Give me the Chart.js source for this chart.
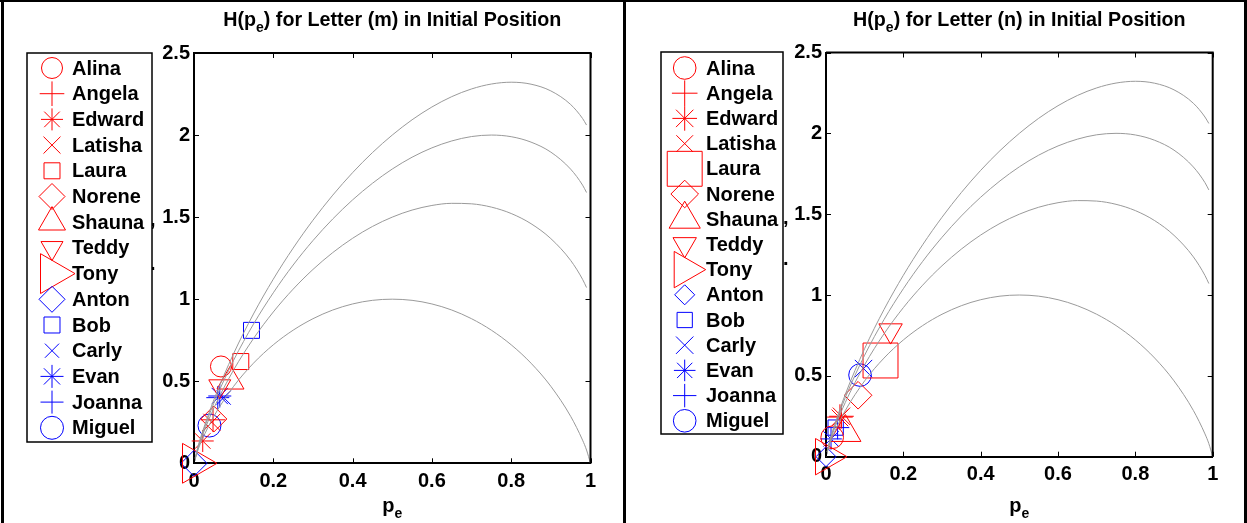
<!DOCTYPE html>
<html>
<head>
<meta charset="utf-8">
<script src="https://cdn.jsdelivr.net/npm/chart.js@4.4.1/dist/chart.umd.min.js"></script>
<style>
  html, body { margin: 0; padding: 0; background: #fff; }
  #wrap { position: relative; width: 1247px; height: 523px; overflow: hidden; background: #fff; }
  #wrap canvas { position: absolute; top: 0; }
  .rule { position: absolute; background: #000; }
</style>
</head>
<body>
<div id="wrap">
  <canvas id="panelM" width="624" height="523" style="left:0"></canvas>
  <canvas id="panelN" width="621" height="523" style="left:626px"></canvas>
  <div class="rule" style="left:0;top:0;width:1247px;height:2px"></div>
  <div class="rule" style="left:1px;top:0;width:3px;height:523px"></div>
  <div class="rule" style="left:623px;top:0;width:3px;height:523px"></div>
  <div class="rule" style="left:1244px;top:0;width:3px;height:523px"></div>
</div>
<script>
// Speakers, in legend order
const speakers = ['Alina', 'Angela', 'Edward', 'Latisha', 'Laura', 'Norene', 'Shauna', 'Teddy', 'Tony',
                  'Anton', 'Bob', 'Carly', 'Evan', 'Joanna', 'Miguel'];
const speakerColors = ['#ff0000', '#ff0000', '#ff0000', '#ff0000', '#ff0000', '#ff0000', '#ff0000', '#ff0000', '#ff0000',
                       '#0000ff', '#0000ff', '#0000ff', '#0000ff', '#0000ff', '#0000ff'];
const markerStyles = ['circle', 'cross', 'star', 'crossRot', 'rect', 'rectRot', 'triangle', 'triangle', 'triangle',
                      'rectRot', 'rect', 'crossRot', 'star', 'cross', 'circle'];
const markerRotations = [0, 0, 0, 0, 0, 0, 0, 180, 90, 0, 0, 0, 0, 0, 0];

// Letter (m): error probability p_e and entropy H(p_e) per speaker, marker radius per speaker
const mPe   = [0.068, 0.048, 0.022, 0.045, 0.118, 0.050, 0.092, 0.065, 0.000, 0.000, 0.145, 0.075, 0.065, 0.060, 0.039];
const mH    = [0.59, 0.265, 0.136, 0.25, 0.62, 0.27, 0.50, 0.47, 0.00, 0.00, 0.81, 0.40, 0.41, 0.40, 0.23];
const mSize = [10.5, 12.3, 11, 12, 11.3, 13, 15.6, 12.7, 23, 13, 11.3, 10, 11.5, 11.5, 11.5];

// Letter (n)
const nPe   = [0.016, 0.036, 0.040, 0.036, 0.141, 0.083, 0.050, 0.167, 0.000, 0.000, 0.025, 0.097, 0.013, 0.030, 0.088];
const nH    = [0.12, 0.245, 0.25, 0.24, 0.595, 0.38, 0.15, 0.78, 0.00, 0.00, 0.18, 0.545, 0.11, 0.18, 0.505];
const nSize = [11.3, 12.8, 12.3, 11.8, 24.7, 13.8, 18, 13.5, 21, 10, 10.8, 12.3, 10.8, 11.7, 11.3];

// Reference entropy curves for 2, 3, 4 and 5 confusable alternatives
const curvePe = [0, 0.01, 0.02, 0.05, 0.1, 0.15, 0.2, 0.25, 0.3, 0.35, 0.4, 0.45, 0.5, 0.55, 0.6,
                 0.65, 0.7, 0.75, 0.8, 0.85, 0.9, 0.95, 0.98, 0.99, 1];
const curveK2 = [0, 0.081, 0.141, 0.286, 0.469, 0.610, 0.722, 0.811, 0.881, 0.934, 0.971, 0.993, 1.000, 0.993, 0.971,
                 0.934, 0.881, 0.811, 0.722, 0.610, 0.469, 0.286, 0.141, 0.081, 0];
const curveK3 = [0, 0.091, 0.161, 0.336, 0.569, 0.760, 0.922, 1.061, 1.181, 1.284, 1.371, 1.443, 1.500, 1.543, 1.571,
                 1.584, 1.581, 1.561, 1.522, 1.460, 1.369, 1.236, 1.121, 1.071, null];
const curveK4 = [0, 0.097, 0.173, 0.366, 0.628, 0.848, 1.039, 1.208, 1.357, 1.489, 1.605, 1.706, 1.793, 1.865, 1.922,
                 1.964, 1.991, 2.000, 1.990, 1.957, 1.896, 1.792, 1.695, 1.650, null];
const curveK5 = [0, 0.101, 0.181, 0.386, 0.669, 0.910, 1.122, 1.311, 1.481, 1.634, 1.771, 1.893, 2.000, 2.093, 2.171,
                 2.234, 2.281, 2.311, 2.322, 2.310, 2.269, 2.186, 2.101, 2.061, null];

const xTickLabels = ['0', '0.2', '0.4', '0.6', '0.8', '1'];
const yTickLabels = ['0', '0.5', '1', '1.5', '2', '2.5'];

const FONT = "'Liberation Sans', Arial, sans-serif";
Chart.defaults.font.family = FONT;
Chart.defaults.color = '#000';

function curveData(values) {
  return curvePe.map((p, i) => ({ x: p, y: values[i] }));
}

// Draw a run of text pieces, some lowered as subscripts, centred on cx
function drawRichText(ctx, pieces, cx, baseline, size) {
  const subSize = Math.round(size * 0.7);
  const widths = pieces.map(p => {
    ctx.font = `bold ${p.sub ? subSize : size}px ${FONT}`;
    return ctx.measureText(p.t).width;
  });
  let x = cx - widths.reduce((a, b) => a + b, 0) / 2;
  ctx.textAlign = 'left';
  ctx.textBaseline = 'alphabetic';
  pieces.forEach((p, i) => {
    ctx.font = `bold ${p.sub ? subSize : size}px ${FONT}`;
    ctx.fillText(p.t, x, baseline + (p.sub ? size * 0.32 : 0));
    x += widths[i];
  });
}

// Box, inward ticks, titles and the marker legend
const decorPlugin = {
  id: 'decor',
  afterDraw(chart, args, opts) {
    const ctx = chart.ctx;
    const a = chart.chartArea;
    const xs = chart.scales.x, ys = chart.scales.y;
    ctx.save();
    ctx.strokeStyle = '#000';
    ctx.lineWidth = 2;
    ctx.beginPath();
    ctx.moveTo(a.left, a.top); ctx.lineTo(a.right, a.top); ctx.lineTo(a.right, a.bottom);
    ctx.stroke();
    const tl = 5;
    ctx.lineWidth = 1;
    ctx.beginPath();
    xs.ticks.forEach(t => {
      const px = Math.round(xs.getPixelForValue(t.value)) + 0.5;
      ctx.moveTo(px, a.bottom); ctx.lineTo(px, a.bottom - tl);
      ctx.moveTo(px, a.top); ctx.lineTo(px, a.top + tl);
    });
    ys.ticks.forEach(t => {
      const py = Math.round(ys.getPixelForValue(t.value)) + 0.5;
      ctx.moveTo(a.left, py); ctx.lineTo(a.left + tl, py);
      ctx.moveTo(a.right, py); ctx.lineTo(a.right - tl, py);
    });
    ctx.stroke();

    ctx.fillStyle = '#000';
    const cx = (a.left + a.right) / 2;
    drawRichText(ctx, [{ t: 'H(p' }, { t: 'e', sub: true }, { t: ') for Letter (' + opts.letter + ') in Initial Position' }],
                 cx, 26, 19.7);
    drawRichText(ctx, [{ t: 'p' }, { t: 'e', sub: true }], cx, 512, 20);

    // stray punctuation left beside the legend box
    ctx.font = `bold 20px ${FONT}`;
    ctx.textAlign = 'left';
    ctx.textBaseline = 'alphabetic';
    opts.marks.forEach(m => ctx.fillText(m.t, m.x, m.y));

    const lg = opts.legend;
    const [bx0, by0, bx1, by1] = lg.box;
    ctx.fillStyle = '#fff';
    ctx.fillRect(bx0, by0, bx1 - bx0, by1 - by0);
    ctx.lineWidth = 1.5;
    ctx.strokeStyle = '#000';
    ctx.strokeRect(bx0, by0, bx1 - bx0, by1 - by0);
    chart.data.datasets.forEach(ds => {
      if (ds.legendIndex === undefined) return;
      const y = lg.firstY + ds.legendIndex * lg.step;
      ctx.strokeStyle = ds.borderColor;
      ctx.fillStyle = 'rgba(0,0,0,0)';
      ctx.lineWidth = 1;
      Chart.helpers.drawPoint(ctx, {
        pointStyle: ds.pointStyle, rotation: ds.pointRotation,
        radius: ds.pointRadius, borderWidth: 1
      }, lg.markerX, y);
      ctx.fillStyle = '#000';
      ctx.font = `bold 20px ${FONT}`;
      ctx.textAlign = 'left';
      ctx.textBaseline = 'middle';
      ctx.fillText(ds.label, lg.textX, y + 1);
    });
    ctx.restore();
  }
};

function buildPanel(canvasId, letter, pe, h, sizes, layout) {
  const markerSets = speakers.map((name, i) => ({
    label: name,
    legendIndex: i,
    data: [{ x: pe[i], y: h[i] }],
    pointStyle: markerStyles[i],
    pointRotation: markerRotations[i],
    pointRadius: sizes[i],
    pointHoverRadius: sizes[i],
    pointBorderWidth: 1,
    borderColor: speakerColors[i],
    backgroundColor: 'rgba(0,0,0,0)',
    showLine: false,
    clip: false,
    order: 2
  }));
  const curveSets = [curveK2, curveK3, curveK4, curveK5].map(vals => ({
    data: curveData(vals),
    showLine: true,
    borderColor: '#9a9a9a',
    borderWidth: 1,
    pointRadius: 0,
    cubicInterpolationMode: 'monotone',
    spanGaps: false,
    order: 1
  }));
  return new Chart(document.getElementById(canvasId), {
    type: 'scatter',
    data: { datasets: [...markerSets, ...curveSets] },
    options: {
      responsive: false,
      animation: false,
      events: [],
      layout: { padding: layout.padding },
      plugins: {
        legend: { display: false },
        tooltip: { enabled: false },
        decor: { letter, legend: layout.legend, marks: layout.marks }
      },
      scales: {
        x: {
          type: 'linear', min: 0, max: 1,
          afterFit: s => { s.height = 40; },
          grid: { display: false, drawTicks: false },
          border: { display: true, color: '#000', width: 2 },
          ticks: { stepSize: 0.2, padding: 6, font: { size: 20, weight: 'bold' },
                   callback: (v, i) => xTickLabels[i] }
        },
        y: {
          type: 'linear', min: 0, max: 2.5,
          afterFit: s => { s.width = 40; },
          grid: { display: false, drawTicks: false },
          border: { display: true, color: '#000', width: 2 },
          ticks: { stepSize: 0.5, padding: 4, font: { size: 20, weight: 'bold' },
                   callback: (v, i) => yTickLabels[i] }
        }
      }
    },
    plugins: [decorPlugin]
  });
}

buildPanel('panelM', 'm', mPe, mH, mSize, {
  padding: { left: 154, top: 53, right: 33.5, bottom: 19.7 },
  legend: { box: [27, 53, 152, 442], markerX: 52, textX: 72, firstY: 68, step: 25.7 },
  marks: [{ t: ',', x: 150, y: 226 }, { t: '.', x: 150, y: 270 }]
});
buildPanel('panelN', 'n', nPe, nH, nSize, {
  padding: { left: 160, top: 52.5, right: 34.3, bottom: 26.3 },
  legend: { box: [35, 52, 157, 434], markerX: 58.7, textX: 80, firstY: 68, step: 25.2 },
  marks: [{ t: ',', x: 157, y: 224 }, { t: '.', x: 157, y: 265 }]
});
</script>
</body>
</html>
